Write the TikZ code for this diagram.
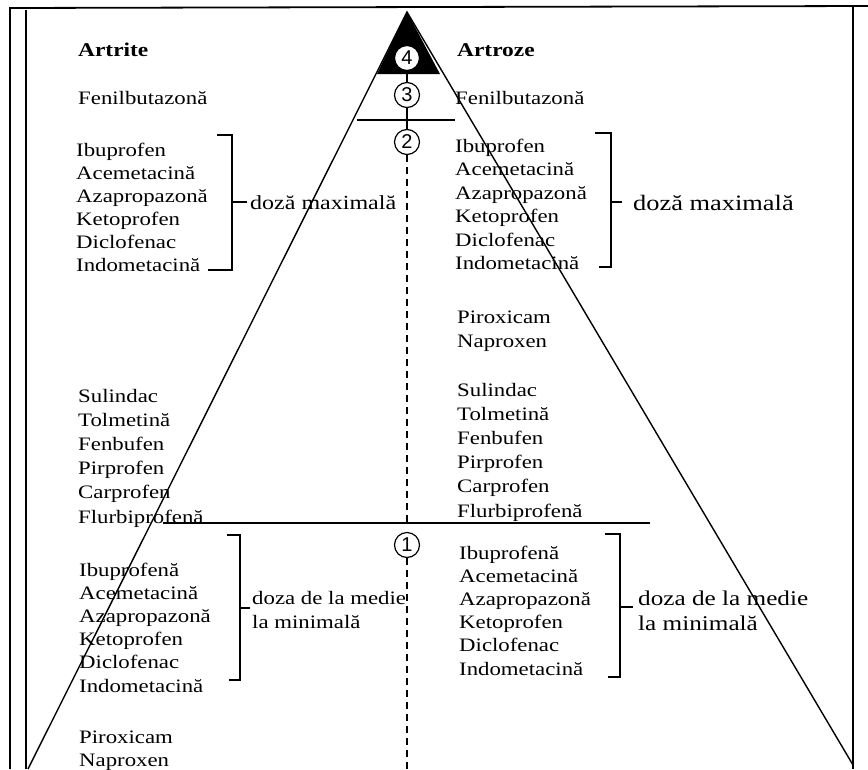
\documentclass[tikz,border=0pt]{standalone}
\usepackage{fontspec}
\setmainfont{Liberation Serif}[FakeStretch=1.2]
\newfontfamily\numfont{Liberation Sans}
\begin{document}
\begin{tikzpicture}[x=1pt,y=-1pt,
  drug/.style={anchor=base west, inner sep=0pt, font=\fontsize{19}{23}\selectfont},
  head/.style={anchor=base west, inner sep=0pt, font=\fontsize{19.5}{23}\selectfont\bfseries},
  dose/.style={anchor=base west, inner sep=0pt, font=\fontsize{#1}{#1}\selectfont},
  num/.style={circle, draw, fill=white, line width=1.2pt, minimum size=25pt, inner sep=0pt, font=\numfont\fontsize{20}{20}\selectfont},
  frame/.style={line width=1.8pt},
  edge/.style={line width=1.4pt},
  brk/.style={line width=1.3pt},
  axis/.style={line width=1.3pt, dash pattern=on 7pt off 5pt}]
\useasboundingbox (0,0) rectangle (868,769);

% page frame
\draw[frame] (10,769) -- (10,8) -- (868,6);
\draw[frame] (26,769) -- (26,10);
\draw[frame] (853,6) -- (853,769);

% pyramid
\coordinate (apex) at (407,12);
\coordinate (bl) at (28,769);
\coordinate (br) at (853,765);
\coordinate (tipL) at (377,74);
\coordinate (tipR) at (440,74);
\fill (apex) -- (tipL) -- (tipR) -- cycle;
\draw[edge] (bl) -- (apex) -- (br);

% level separators
\coordinate (s1a) at (357,120);
\coordinate (s1b) at (455,120);
\coordinate (s2a) at (163,523);
\coordinate (s2b) at (650,523);
\draw[edge] (s1a) -- (s1b);
\draw[edge] (s2a) -- (s2b);

% level markers on the axis
\node[num] (c4) at (407,58) {4};
\node[num] (c3) at (407,95) {3};
\node[num] (c2) at (407,142) {2};
\node[num] (c1) at (407,545) {1};
\coordinate (tipbase) at (407,74);
\coordinate (sep1) at (407,120);
\coordinate (sep2) at (407,523);
\coordinate (axisend) at (407,769);
\draw[line width=1.2pt] (tipbase) -- (c3.north);
\draw[line width=1.2pt] (c3.south) -- (sep1) -- (c2.north);
\draw[axis] (c2.south) -- (sep2);
\draw[axis] (c1.south) -- (axisend);

% headings
\node[head] (artrite) at (78,56) {Artrite};
\node[head] (artroze) at (457,56) {Artroze};
\node[drug] (fenL) at (78,104) {Fenilbutazonă};
\node[drug] (fenR) at (455,104) {Fenilbutazonă};

% maximal dose group
\foreach \t [count=\i from 0] in {Ibuprofen,Acemetacină,Azapropazonă,Ketoprofen,Diclofenac,Indometacină}{
  \node[drug] (maxL\i) at (76,{156+23*\i}) {\t};
  \node[drug] (maxR\i) at (455,{152+23.5*\i}) {\t};
}

% right: Piroxicam, Naproxen
\node[drug] (pirR) at (457,323) {Piroxicam};
\node[drug] (napR) at (457,347) {Naproxen};

% Sulindac group
\foreach \t [count=\i from 0] in {Sulindac,Tolmetină,Fenbufen,Pirprofen,Carprofen,Flurbiprofenă}{
  \node[drug] (sulL\i) at (78,{402+24.2*\i}) {\t};
  \node[drug] (sulR\i) at (457,{396+24.2*\i}) {\t};
}

% medium to minimal dose group
\foreach \t [count=\i from 0] in {Ibuprofenă,Acemetacină,Azapropazonă,Ketoprofen,Diclofenac,Indometacină}{
  \node[drug] (minL\i) at (79,{576+23.2*\i}) {\t};
  \node[drug] (minR\i) at (459,{559+23.2*\i}) {\t};
}

% left: Piroxicam, Naproxen
\node[drug] (pirL) at (79,743) {Piroxicam};
\node[drug] (napL) at (79,766) {Naproxen};

% brackets and dose labels
\coordinate (bLmax) at (232,202);
\coordinate (tLmax) at (247,202);
\draw[brk] (217,135) -- (232,135) -- (232,270) -- (208,270);
\draw[brk] (bLmax) -- (tLmax);
\node[dose=20] (doseLmax) at (250,209) {doză maximală};

\coordinate (bRmax) at (611,202);
\coordinate (tRmax) at (622,202);
\draw[brk] (595,133) -- (611,133) -- (611,267) -- (599,267);
\draw[brk] (bRmax) -- (tRmax);
\node[dose=22] (doseRmax) at (633,210) {doză maximală};

\coordinate (bLmin) at (240,608);
\coordinate (tLmin) at (250,608);
\draw[brk] (227,535) -- (240,535) -- (240,680) -- (229,680);
\draw[brk] (bLmin) -- (tLmin);
\node[dose=19] (doseLminA) at (252,604) {doza de la medie};
\node[dose=19] (doseLminB) at (252,628) {la minimală};

\coordinate (bRmin) at (620,607);
\coordinate (tRmin) at (633,607);
\draw[brk] (605,534) -- (620,534) -- (620,677) -- (608,677);
\draw[brk] (bRmin) -- (tRmin);
\node[dose=21] (doseRminA) at (638,605) {doza de la medie};
\node[dose=21] (doseRminB) at (638,630) {la minimală};
\end{tikzpicture}
\end{document}
